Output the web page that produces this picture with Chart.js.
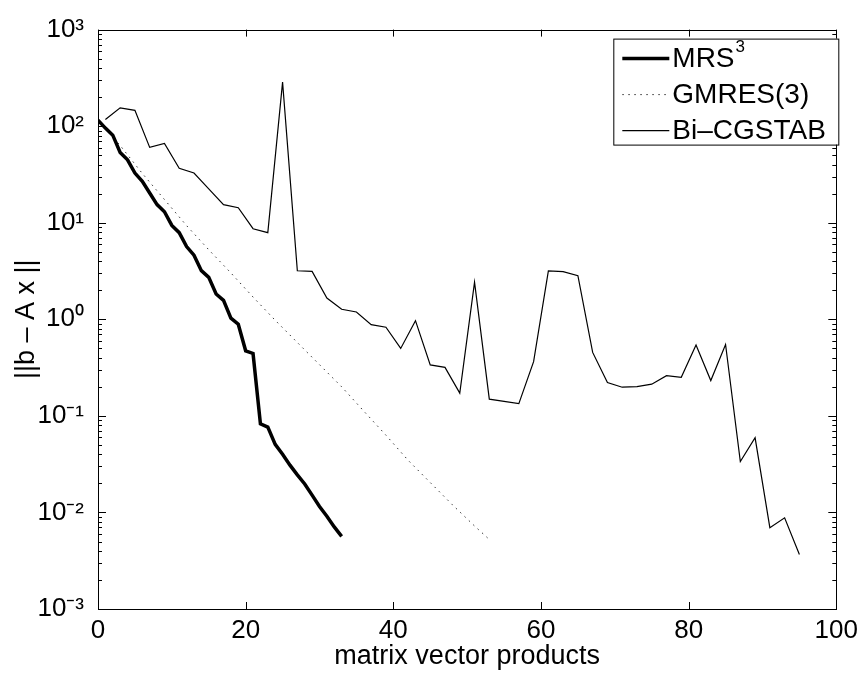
<!DOCTYPE html>
<html>
<head>
<meta charset="utf-8">
<script src="https://cdn.jsdelivr.net/npm/chart.js@4.4.1/dist/chart.umd.min.js"></script>
<style>
  html, body { margin: 0; padding: 0; background: #fff; }
  #wrap { width: 864px; height: 673px; }
</style>
</head>
<body>
<div id="wrap"><canvas id="c" width="864" height="673"></canvas></div>
<script>
// ---- data ----
const seriesLabels = ["MRS\u00B3", "GMRES(3)", "Bi\u2013CGSTAB"];

const mrsX = [0,1,2,3,4,5,6,7,8,9,10,11,12,13,14,15,16,17,18,19,20,21,22,23,24,25,26,27,28,29,30,31,32,33];
const mrsY = [115,95.5,80.7,53.3,44.8,32.7,26.8,20.3,15.4,13.0,9.38,7.89,5.66,4.61,3.19,2.72,1.83,1.57,1.03,0.889,0.472,0.443,0.0826,0.0764,0.0507,0.040,0.0309,0.0245,0.0197,0.0151,0.0115,0.00912,0.00708,0.00565];

const gmresX = [0,3,6,9,12,15,18,21,24,27,30,33,36,39,42,45,48,51,53];
const gmresY = [115,63.1,32.4,17.4,9.33,5.25,3.02,1.70,0.977,0.575,0.339,0.200,0.112,0.0631,0.0347,0.0204,0.0120,0.00724,0.00525];

const bicgX = [1,3,5,7,9,11,13,15,17,19,21,23,25,27,29,31,33,35,37,39,41,43,45,47,49,51,53,55,57,59,61,63,65,67,69,71,73,75,77,79,81,83,85,87,89,91,93,95];
const bicgY = [117,155,146,60.3,66.1,36.7,32.7,22.4,15.4,14.3,8.67,7.89,286,3.18,3.13,1.66,1.27,1.19,0.881,0.828,0.499,0.968,0.337,0.318,0.172,2.42,0.149,0.141,0.134,0.364,3.18,3.11,2.83,0.454,0.221,0.198,0.201,0.213,0.261,0.251,0.541,0.232,0.548,0.0336,0.0593,0.00695,0.00879,0.00366];

const xTicks = [0,20,40,60,80,100];
const yExponents = [-3,-2,-1,0,1,2,3];
const xTitle = "matrix vector products";
const yTitle = "||b \u2013 A x ||";

// ---- helpers ----
const FONT = "'Liberation Sans', Arial, Helvetica, sans-serif";
const supMap = {"-":"\u207B","0":"\u2070","1":"\u00B9","2":"\u00B2","3":"\u00B3","4":"\u2074","5":"\u2075","6":"\u2076","7":"\u2077","8":"\u2078","9":"\u2079"};
const toSup = s => String(s).split("").map(ch => supMap[ch] || ch).join("");
const pts = (xs, ys) => xs.map((x, i) => ({x: x, y: ys[i]}));

// inward ticks and full box, like the original axes
const boxTicks = {
  id: 'boxTicks',
  afterDatasetsDraw(chart) {
    const {ctx, chartArea: a, scales: {x, y}} = chart;
    ctx.save();
    ctx.strokeStyle = '#000';
    ctx.lineWidth = 1;
    ctx.beginPath();
    xTicks.forEach(v => {
      const px = Math.round(x.getPixelForValue(v)) + 0.5;
      ctx.moveTo(px, a.bottom); ctx.lineTo(px, a.bottom - 7);
      ctx.moveTo(px, a.top); ctx.lineTo(px, a.top + 7);
    });
    yExponents.forEach(e => {
      for (let k = 1; k <= 9; k++) {
        const v = k * Math.pow(10, e);
        if (v > 1000.0001) break;
        const py = Math.round(y.getPixelForValue(v)) + 0.5;
        const len = k === 1 ? 8 : 4;
        ctx.moveTo(a.left, py); ctx.lineTo(a.left + len, py);
        ctx.moveTo(a.right, py); ctx.lineTo(a.right - len, py);
      }
    });
    ctx.stroke();
    ctx.strokeRect(Math.round(a.left) + 0.5, Math.round(a.top) + 0.5,
                   Math.round(a.right - a.left), Math.round(a.bottom - a.top));
    ctx.restore();
  }
};

// boxed legend in the upper right corner
const boxLegend = {
  id: 'boxLegend',
  afterDraw(chart) {
    const {ctx, chartArea: a} = chart;
    const bx = a.right - 223, by = a.top + 9, bw = 225, bh = 106;
    ctx.save();
    ctx.fillStyle = '#fff';
    ctx.fillRect(bx, by, bw, bh);
    ctx.strokeStyle = '#000';
    ctx.lineWidth = 1;
    ctx.strokeRect(bx + 0.5, by + 0.5, bw, bh);
    chart.data.datasets.forEach((ds, i) => {
      const cy = by + 20 + i * 36;
      ctx.beginPath();
      ctx.strokeStyle = ds.borderColor;
      ctx.lineWidth = ds.borderWidth;
      ctx.setLineDash(ds.borderDash || []);
      ctx.moveTo(bx + 9, cy); ctx.lineTo(bx + 56, cy);
      ctx.stroke();
      ctx.setLineDash([]);
      ctx.fillStyle = '#000';
      ctx.textBaseline = 'middle';
      ctx.textAlign = 'left';
      const parts = ds.label.split('\u00B3');
      ctx.font = '28px ' + FONT;
      ctx.fillText(parts[0], bx + 59, cy + 1);
      if (parts.length > 1) {
        const w = ctx.measureText(parts[0]).width;
        ctx.font = '17px ' + FONT;
        ctx.fillText('3', bx + 59 + w + 1, cy - 11);
      }
    });
    ctx.restore();
  }
};

Chart.defaults.font.family = FONT;
Chart.defaults.font.size = 26;
Chart.defaults.color = '#000';

new Chart(document.getElementById('c'), {
  type: 'line',
  data: {
    datasets: [
      { label: seriesLabels[0], data: pts(mrsX, mrsY), borderColor: '#000', borderWidth: 3.5, pointRadius: 0, tension: 0, fill: false },
      { label: seriesLabels[1], data: pts(gmresX, gmresY), borderColor: '#333', borderWidth: 1, borderDash: [1.5, 4.5], pointRadius: 0, tension: 0, fill: false },
      { label: seriesLabels[2], data: pts(bicgX, bicgY), borderColor: '#000', borderWidth: 1.2, pointRadius: 0, tension: 0, fill: false }
    ]
  },
  options: {
    responsive: false,
    animation: false,
    events: [],
    layout: { padding: { top: 24, right: 25, left: 0, bottom: 0 } },
    plugins: { legend: { display: false }, tooltip: { enabled: false } },
    scales: {
      x: {
        type: 'linear', min: 0, max: 100,
        grid: { display: false, drawTicks: false },
        border: { display: false },
        afterBuildTicks: s => { s.ticks = xTicks.map(v => ({value: v})); },
        afterFit: s => { s.height = 64; },
        ticks: { padding: 6, maxRotation: 0, autoSkip: false, font: { size: 26 } },
        title: { display: true, text: xTitle, font: { size: 27 }, padding: { top: 0, bottom: 0 } }
      },
      y: {
        type: 'logarithmic', min: 1e-3, max: 1e3,
        grid: { display: false, drawTicks: false },
        border: { display: false },
        afterBuildTicks: s => { s.ticks = yExponents.map(e => ({value: Math.pow(10, e)})); },
        afterFit: s => { s.width = 98; },
        ticks: {
          padding: 14, autoSkip: false, font: { size: 26 },
          callback: v => '10' + toSup(Math.round(Math.log10(v)))
        },
        title: { display: true, text: yTitle, font: { size: 27 }, padding: { top: 10, bottom: 0 } }
      }
    }
  },
  plugins: [boxTicks, boxLegend]
});
</script>
</body>
</html>
